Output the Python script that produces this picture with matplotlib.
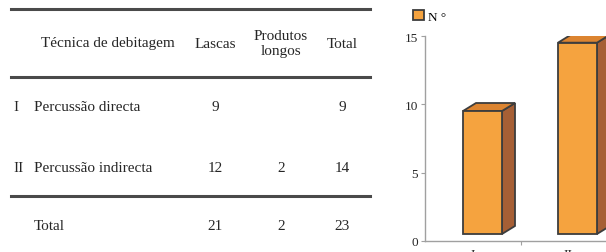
import numpy as np
import matplotlib
matplotlib.use('Agg')
import matplotlib.pyplot as plt
from matplotlib.patches import Polygon, Patch

plt.rcParams['font.family'] = ['Liberation Serif', 'DejaVu Serif']

# table data
col_headers = ['Lascas', 'Produtos\nlongos', 'Total']
row_codes = ['I', 'II']
row_names = ['Percussão directa', 'Percussão indirecta']
lascas = [9, 12]
longos = [None, 2]
totals = [9, 14]
sum_row = [21, 2, 23]

# chart data
categories = ['I', 'II']
counts = [9, 14]
legend_label = 'N °'

W, H = 606, 253
fig = plt.figure(figsize=(W / 100, H / 100), dpi=100)


def fx(x):
    return x / W


def fy(y):
    return 1 - y / H


txt = dict(fontsize=11, color='#262626', va='center')

# ---- table ----
for y in [10, 78, 197]:
    fig.add_artist(plt.Line2D([fx(11), fx(370)], [fy(y), fy(y)], color='#4a4a4a', lw=2.2))

col_x = [215, 281, 342]
fig.text(fx(108), fy(44), 'Técnica de debitagem', ha='center', **txt)
for cx, h in zip(col_x, col_headers):
    fig.text(fx(cx), fy(44), h, ha='center', linespacing=1.25, **txt)

row_y = [108, 168]
for ry, code, name, a, b, t in zip(row_y, row_codes, row_names, lascas, longos, totals):
    fig.text(fx(13), fy(ry), code, ha='left', **txt)
    fig.text(fx(34), fy(ry), name, ha='left', **txt)
    for cx, v in zip(col_x, [a, b, t]):
        if v is not None:
            fig.text(fx(cx), fy(ry), str(v), ha='center', **txt)

fig.text(fx(34), fy(227), 'Total', ha='left', **txt)
for cx, v in zip(col_x, sum_row):
    fig.text(fx(cx), fy(227), str(v), ha='center', **txt)

# ---- 3d-ish bar chart ----
ax_l, ax_r, ax_b, ax_t = 425, 606, 242, 37
ax = fig.add_axes([fx(ax_l), fy(ax_b), fx(ax_r - ax_l), (ax_b - ax_t) / H])
px_per_x = 95.0
px_per_y = (ax_b - ax_t) / 15.0
x0 = 473
ax.set_xlim(-(x0 - ax_l) / px_per_x, (ax_r - x0) / px_per_x)
ax.set_ylim(0, 15)

pos = np.arange(len(categories))
width = 39 / px_per_x
shift = 9.5 / px_per_x
lift = 7 / px_per_y
dx = 13 / px_per_x
dy = 8 / px_per_y
edge = '#3d3d3d'

for p, v in zip(pos, counts):
    l = p + shift - width / 2
    r = p + shift + width / 2
    top = v + lift
    ax.add_patch(Polygon([(r, lift), (r + dx, lift + dy), (r + dx, top + dy), (r, top)],
                         closed=True, fc='#a65f35', ec=edge, lw=1.3, joinstyle='miter'))
    ax.add_patch(Polygon([(l, top), (r, top), (r + dx, top + dy), (l + dx, top + dy)],
                         closed=True, fc='#dc8430', ec=edge, lw=1.3, joinstyle='miter'))
ax.bar(pos + shift, counts, width=width, bottom=lift, color='#f5a33f', edgecolor=edge,
       lw=1.3, zorder=3)

for s in ['top', 'right']:
    ax.spines[s].set_visible(False)
for s in ['left', 'bottom']:
    ax.spines[s].set_color('#a0a0a0')
    ax.spines[s].set_linewidth(1.0)

ax.set_yticks([0, 5, 10, 15])
ax.tick_params(axis='y', length=3, width=0.8, color='#a0a0a0', pad=2, labelsize=9.5,
               labelcolor='#262626')
ax.set_xticks(pos)
ax.set_xticklabels(categories)
ax.set_xticks([0.5], minor=True)
ax.tick_params(axis='x', which='major', length=0, pad=5, labelsize=9.5, labelcolor='#262626')
ax.tick_params(axis='x', which='minor', length=3, width=0.8, color='#a0a0a0')

fig.legend(handles=[Patch(fc='#f5a33f', ec=edge, lw=1.3)], labels=[legend_label],
           loc='upper left', bbox_to_anchor=(fx(404), fy(2)), frameon=False,
           handlelength=0.8, handleheight=0.8, handletextpad=0.3, borderpad=0.2,
           prop={'size': 9.5})

fig.savefig('out.png', dpi=100)
